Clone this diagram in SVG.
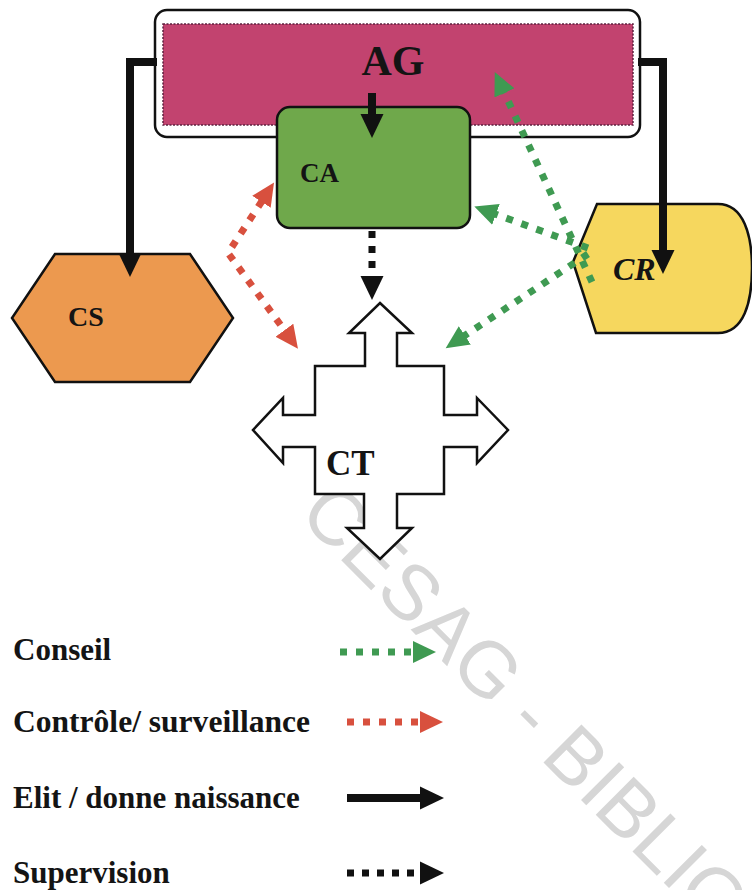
<svg xmlns="http://www.w3.org/2000/svg" width="752" height="890" viewBox="0 0 752 890">
  <style>
    .shape { stroke: #111; stroke-width: 2.5; stroke-linejoin: miter; }
    .lbl { font-family: "Liberation Serif", "Times New Roman", serif; font-weight: bold; fill: #141414; }
    .solid { fill: none; stroke: #111; stroke-width: 8; stroke-linejoin: miter; }
    .dotK { fill: none; stroke: #111; stroke-width: 7; stroke-dasharray: 7 8; }
    .dotG { fill: none; stroke: #3f9a52; stroke-width: 7; stroke-dasharray: 7 9; }
    .dotR { fill: none; stroke: #d8503e; stroke-width: 7; stroke-dasharray: 7 9; }
    .legend { font-family: "Liberation Serif", "Times New Roman", serif; font-weight: bold; font-size: 31px; fill: #141414; }
  </style>
  <defs>
    <marker id="headK" viewBox="0 -12 24 24" markerWidth="24" markerHeight="24" refX="1" refY="0" orient="auto" markerUnits="userSpaceOnUse">
      <path d="M0,-11.5 L24,0 L0,11.5 Z" fill="#111"/>
    </marker>
    <marker id="headG" viewBox="0 -12 24 24" markerWidth="24" markerHeight="24" refX="1" refY="0" orient="auto" markerUnits="userSpaceOnUse">
      <path d="M0,-11 L23,0 L0,11 Z" fill="#3f9a52"/>
    </marker>
    <marker id="headR" viewBox="0 -12 24 24" markerWidth="24" markerHeight="24" refX="1" refY="0" orient="auto-start-reverse" markerUnits="userSpaceOnUse">
      <path d="M0,-11 L23,0 L0,11 Z" fill="#d8503e"/>
    </marker>
  </defs>

  <rect width="752" height="890" fill="#ffffff"/>

  <!-- watermark, behind everything -->
  <text transform="translate(297,516) rotate(45)" font-family="Liberation Sans, Arial, sans-serif" font-size="78" fill="#d6d6d6">CESAG - BIBLIO</text>

  <!-- Assemblée générale -->
  <g id="node-ag">
    <rect class="shape" x="155" y="10" width="485" height="127" rx="12" fill="#ffffff"/>
    <rect x="163" y="24" width="470" height="101" fill="#c2436f" stroke="#5e2240" stroke-width="1.5" stroke-dasharray="2 1.5"/>
    <text class="lbl" x="393" y="75" font-size="42" text-anchor="middle">AG</text>
  </g>

  <!-- Conseil d'administration -->
  <g id="node-ca">
    <rect class="shape" x="277" y="107" width="193" height="121" rx="13" fill="#6fa84b"/>
    <text class="lbl" x="300" y="182" font-size="27">CA</text>
  </g>

  <!-- Comité de surveillance -->
  <g id="node-cs">
    <polygon class="shape" points="55,254 190,254 233,318 190,382 55,382 12,318" fill="#ec994f"/>
    <text class="lbl" x="68" y="326" font-size="28">CS</text>
  </g>

  <!-- Comité de crédit -->
  <g id="node-cr">
    <path class="shape" d="M597,204 H718 C744,204 752,236 752,268 C752,302 744,333 718,333 H596 L573,262 Z" fill="#f6d75e"/>
    <text class="lbl" x="613" y="280" font-size="32" font-style="italic">CR</text>
  </g>

  <!-- Comité technique: four-way arrow -->
  <g id="node-ct">
    <path class="shape" fill="#ffffff" d="M380,303 L412,333 L397,333 L397,366 L444,366 L444,415 L477,415 L477,398 L508,430 L477,463 L477,447 L444,447 L444,494 L397,494 L397,528 L412,528 L380,559 L347,528 L364,528 L364,494 L315,494 L315,447 L283,447 L283,463 L253,430 L283,398 L283,415 L315,415 L315,366 L365,366 L365,333 L349,333 Z"/>
    <text class="lbl" x="326" y="475" font-size="35">CT</text>
  </g>

  <g id="connectors">
    <!-- AG elects CS, CR and CA -->
    <path class="solid" d="M157,62 H130 V254" marker-end="url(#headK)"/>
    <path class="solid" d="M638,62 H663 V251" marker-end="url(#headK)"/>
    <path class="solid" d="M372,93 V115" marker-end="url(#headK)"/>
    <!-- CA supervises CT -->
    <path class="dotK" d="M372,231 V277" marker-end="url(#headK)"/>
    <!-- CS controls CA and CT -->
    <path class="dotR" d="M262,201 L228,253 L285,331" marker-start="url(#headR)" marker-end="url(#headR)"/>
    <!-- CR advises AG, CA and CT -->
    <path class="dotG" d="M592,282 L504,92" marker-end="url(#headG)"/>
    <path class="dotG" d="M588,248 L495,214" marker-end="url(#headG)"/>
    <path class="dotG" d="M588,254 L464,336" marker-end="url(#headG)"/>
  </g>

  <g id="legend">
    <text class="legend" x="13" y="660">Conseil</text>
    <path class="dotG" d="M340,652 H414" marker-end="url(#headG)"/>
    <text class="legend" x="13" y="732" textLength="297" lengthAdjust="spacingAndGlyphs">Contrôle/ surveillance</text>
    <path class="dotR" d="M347,722 H421" marker-end="url(#headR)"/>
    <text class="legend" x="13" y="808">Elit / donne naissance</text>
    <path class="solid" d="M347,798 H421" marker-end="url(#headK)"/>
    <text class="legend" x="13" y="883">Supervision</text>
    <path class="dotK" d="M347,873 H421" marker-end="url(#headK)"/>
  </g>
</svg>
